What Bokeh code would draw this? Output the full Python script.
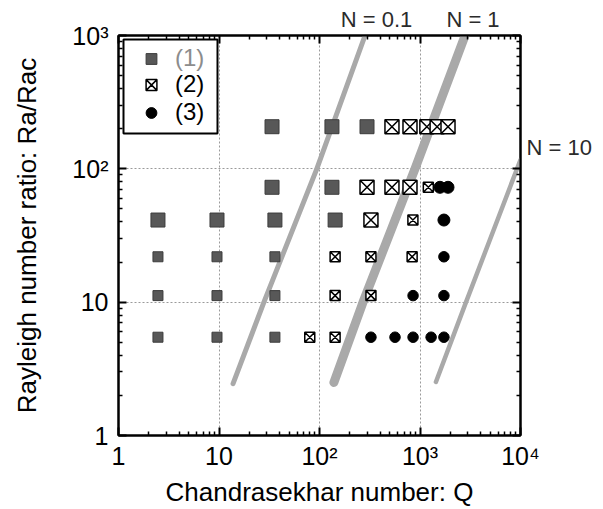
from bokeh.plotting import figure
from bokeh.models import (LogAxis, FixedTicker, Legend, LegendItem, BoxAnnotation,
                          CustomJSTickFormatter, ColumnDataSource)
from bokeh.embed import file_html
from bokeh.resources import INLINE

# ---------------- data ----------------
# group (1): filled grey squares
G1_Q = [33.7, 133, 297, 33.7, 133, 2.47, 9.55, 36, 143,
        2.47, 9.55, 36, 2.47, 9.55, 36, 2.47, 9.55, 36]
G1_R = [207, 207, 207, 72.7, 72.7, 41.3, 41.3, 41.3, 41.3,
        21.9, 21.9, 21.9, 11.2, 11.2, 11.2, 5.46, 5.46, 5.46]
G1_LARGE = [1, 1, 1, 1, 1, 1, 1, 1, 1, 0, 0, 0, 0, 0, 0, 0, 0, 0]

# group (2): crossed open squares
G2_Q = [526, 795, 1170, 1480, 1900, 297, 526, 795, 1210, 325, 850,
        143, 325, 835, 143, 325, 80, 143]
G2_R = [207, 207, 207, 207, 207, 72.7, 72.7, 72.7, 72.7, 41.3, 41.3,
        21.9, 21.9, 21.9, 11.2, 11.2, 5.46, 5.46]
G2_LARGE = [1, 1, 1, 1, 1, 1, 1, 1, 0, 1, 0, 0, 0, 0, 0, 0, 0, 0]

# group (3): black circles
G3_Q = [1580, 1900, 1730, 1730, 853, 1730, 325, 564, 853, 1290, 1730]
G3_R = [72.7, 72.7, 41.3, 21.9, 11.2, 11.2, 5.46, 5.46, 5.46, 5.46, 5.46]
G3_LARGE = [1, 1, 1, 0, 0, 0, 0, 0, 0, 0, 0]

GROUP_LABELS = ["(1)", "(2)", "(3)"]

# constant-N curves
N_LABELS = ["N = 0.1", "N = 1", "N = 10"]
LINE_Q = [[13.8, 28, 94, 284], [139, 271, 891, 2810], [1440, 2870, 10000]]
LINE_R = [[2.45, 10, 100, 1000], [2.5, 10, 100, 1000], [2.52, 10, 117]]

XTICKS = [1, 10, 100, 1000, 10000]
XTICK_LABELS = ["1", "10", "10²", "10³", "10⁴"]
YTICKS = [1, 10, 100, 1000]
YTICK_LABELS = ["1", "10", "10²", "10³"]

X_TITLE = "Chandrasekhar number: Q"
Y_TITLE = "Rayleigh number ratio: Ra/Rac"

# ---------------- layout / style ----------------
N_TOP_AT_Q = [369, 3368]      # where the two top N labels sit (along Q)
N_RIGHT_AT_R = [144]          # where the right N label sits (along Ra/Rac)

FONT = "Liberation Sans"
LINE_COLOR = "#a9a9a9"
LINE_WIDTHS = [5, 9, 4.5]
SQ_SIZES = (10, 14)
SQX_SIZES = (10, 14)
CIRC_SIZES = (10.5, 12)
N_COLOR = "#2b2b2b"

p = figure(width=603, height=509, x_axis_type="log", y_axis_type="log",
           x_range=(1, 1e4), y_range=(1, 1e3),
           output_backend="svg", toolbar_location=None,
           min_border_left=118, min_border_right=83,
           min_border_top=35, min_border_bottom=71)
p.outline_line_color = "black"
p.outline_line_width = 2
p.background_fill_color = "white"
p.border_fill_color = "white"

xminor = [m * 10 ** k for k in range(4) for m in range(2, 10)]
yminor = [m * 10 ** k for k in range(3) for m in range(2, 10)]
xticker = FixedTicker(ticks=XTICKS, minor_ticks=xminor)
yticker = FixedTicker(ticks=YTICKS, minor_ticks=yminor)

bottom = p.below[0]
left = p.left[0]
bottom.ticker = xticker
left.ticker = yticker
bottom.major_label_overrides = dict(zip(XTICKS, XTICK_LABELS))
left.major_label_overrides = dict(zip(YTICKS, YTICK_LABELS))

top = LogAxis(ticker=xticker, formatter=CustomJSTickFormatter(code="return ''"))
right = LogAxis(ticker=yticker, formatter=CustomJSTickFormatter(code="return ''"))
p.add_layout(top, "above")
p.add_layout(right, "right")

for ax in (bottom, left, top, right):
    ax.axis_line_width = 2
    ax.axis_line_color = "black"
    ax.major_tick_in = 8
    ax.major_tick_out = 0
    ax.minor_tick_in = 4
    ax.minor_tick_out = 0
    ax.major_tick_line_width = 2
    ax.minor_tick_line_width = 1.5
    ax.major_label_text_font = FONT
    ax.major_label_text_font_size = "25px"
    ax.major_label_text_color = "black"
for ax in (top, right):
    ax.major_label_text_font_size = "0px"
    ax.major_label_standoff = 0
bottom.major_label_standoff = 6
left.major_label_standoff = 10

for ax, title in ((bottom, X_TITLE), (left, Y_TITLE)):
    ax.axis_label = title
    ax.axis_label_text_font = FONT
    ax.axis_label_text_font_size = "26px"
    ax.axis_label_text_font_style = "normal"
    ax.axis_label_text_color = "black"
bottom.axis_label_standoff = 4
left.axis_label_standoff = 27

# axes that only carry the N = ... annotations
n_top = LogAxis(ticker=FixedTicker(ticks=N_TOP_AT_Q),
                major_label_overrides=dict(zip(N_TOP_AT_Q, N_LABELS[:2])))
n_right = LogAxis(ticker=FixedTicker(ticks=N_RIGHT_AT_R),
                  major_label_overrides=dict(zip(N_RIGHT_AT_R, N_LABELS[2:])))
for ax in (n_top, n_right):
    ax.axis_line_alpha = 0
    ax.major_tick_line_alpha = 0
    ax.minor_tick_line_alpha = 0
    ax.major_tick_in = 0
    ax.major_tick_out = 0
    ax.minor_tick_in = 0
    ax.minor_tick_out = 0
    ax.major_label_text_font = FONT
    ax.major_label_text_font_size = "22px"
    ax.major_label_text_color = N_COLOR
n_top.major_label_standoff = 4
n_right.major_label_standoff = 6
p.add_layout(n_top, "above")
p.add_layout(n_right, "right")

p.xgrid.ticker = xticker
p.ygrid.ticker = yticker
for g in (p.xgrid, p.ygrid):
    g.grid_line_color = "#9a9a9a"
    g.grid_line_dash = "2 2"
    g.grid_line_width = 1

# constant-N bands
for q, r, w in zip(LINE_Q, LINE_R, LINE_WIDTHS):
    p.line(q, r, line_color=LINE_COLOR, line_width=w, line_cap="round", line_join="round")

s1 = ColumnDataSource(dict(q=G1_Q, r=G1_R, s=[SQ_SIZES[b] for b in G1_LARGE]))
s2 = ColumnDataSource(dict(q=G2_Q, r=G2_R, s=[SQX_SIZES[b] for b in G2_LARGE]))
s3 = ColumnDataSource(dict(q=G3_Q, r=G3_R, s=[CIRC_SIZES[b] for b in G3_LARGE]))

r1 = p.scatter("q", "r", source=s1, marker="square", size="s",
               fill_color="#585858", line_color="#3c3c3c", line_width=1)
r2 = p.scatter("q", "r", source=s2, marker="square_x", size="s",
               fill_color="white", line_color="black", line_width=1.5)
r3 = p.scatter("q", "r", source=s3, marker="circle", size="s",
               fill_color="black", line_color="black", line_width=1)

def make_legend(items, loc, color):
    return Legend(items=items, location=loc, padding=0, margin=0, spacing=0,
                  glyph_height=27, glyph_width=44, label_height=27, label_standoff=2,
                  border_line_alpha=0, background_fill_alpha=0,
                  label_text_font=FONT, label_text_font_size="24px",
                  label_text_color=color)

leg1 = make_legend([LegendItem(label=GROUP_LABELS[0], renderers=[r1])], (11, 363), "#8c8c8c")
leg2 = make_legend([LegendItem(label=GROUP_LABELS[1], renderers=[r2]),
                    LegendItem(label=GROUP_LABELS[2], renderers=[r3])], (11, 309), "black")
p.add_layout(leg1)
p.add_layout(leg2)
p.add_layout(BoxAnnotation(left=5, right=99, top=396, bottom=302,
                           left_units="screen", right_units="screen",
                           top_units="screen", bottom_units="screen",
                           fill_alpha=0, line_color="black", line_width=2, line_alpha=1))

open("out.html", "w").write(file_html(p, INLINE))
